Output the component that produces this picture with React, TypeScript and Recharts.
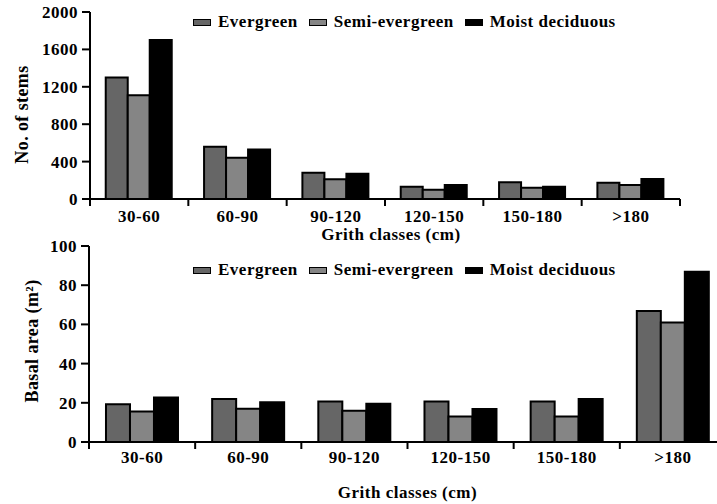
import { BarChart, Bar, XAxis, YAxis, Legend } from 'recharts'

const categories = ['30-60', '60-90', '90-120', '120-150', '150-180', '>180']
const seriesNames = ['Evergreen', 'Semi-evergreen', 'Moist deciduous']
const seriesColors = ['#666666', '#858585', '#000000']

const stemsEvergreen = [1300, 560, 280, 130, 180, 175]
const stemsSemi = [1110, 440, 210, 100, 120, 150]
const stemsMoist = [1700, 530, 270, 150, 130, 215]

const basalEvergreen = [19.3, 22, 20.7, 20.7, 20.7, 66.8]
const basalSemi = [15.6, 17, 16, 13, 13, 61]
const basalMoist = [22.7, 20.3, 19.5, 16.8, 21.9, 86.8]

const stemTicks = [0, 400, 800, 1200, 1600, 2000]
const basalTicks = [0, 20, 40, 60, 80, 100]

const FONT = 'Liberation Serif'
const FS = 17
const FW = 'bold'
const LS = 0.5

const stemsData = categories.map((c, i) => ({
  name: c,
  ev: stemsEvergreen[i],
  se: stemsSemi[i],
  md: stemsMoist[i],
}))
const basalData = categories.map((c, i) => ({
  name: c,
  ev: basalEvergreen[i],
  se: basalSemi[i],
  md: basalMoist[i],
}))

function makeXTick(band: number, labelDy: number) {
  return (props: any) => {
    const { x, y, payload, index } = props
    const left = x - band / 2
    const right = x + band / 2
    return (
      <g>
        <line x1={left} x2={left} y1={y} y2={y + 7} stroke="#000" strokeWidth={2} />
        {index === categories.length - 1 && (
          <line x1={right} x2={right} y1={y} y2={y + 7} stroke="#000" strokeWidth={2} />
        )}
        <text
          x={x}
          y={y + labelDy}
          textAnchor="middle"
          dominantBaseline="central"
          fontFamily={FONT}
          fontSize={FS}
          fontWeight={FW}
          letterSpacing={LS}
          fill="#000"
        >
          {payload.value}
        </text>
      </g>
    )
  }
}

function xTitle(dy: number, dx: number) {
  return (props: any) => {
    const vb = props.viewBox
    return (
      <text
        x={vb.x + vb.width / 2 + dx}
        y={vb.y + dy}
        textAnchor="middle"
        dominantBaseline="central"
        fontFamily={FONT}
        fontSize={FS}
        fontWeight={FW}
        letterSpacing={LS}
        fill="#000"
      >
        Grith classes (cm)
      </text>
    )
  }
}

function yTitle(text: string, cx: number, dy: number) {
  return (props: any) => {
    const vb = props.viewBox
    const cy = vb.y + vb.height / 2 + dy
    return (
      <text
        x={cx}
        y={cy}
        textAnchor="middle"
        dominantBaseline="central"
        transform={`rotate(-90 ${cx} ${cy})`}
        fontFamily={FONT}
        fontSize={18}
        fontWeight={FW}
        letterSpacing={0.4}
        fill="#000"
      >
        {text}
      </text>
    )
  }
}

function LegendBox() {
  return (
    <div
      style={{
        display: 'flex',
        alignItems: 'center',
        fontFamily: FONT,
        fontSize: FS,
        fontWeight: FW,
        letterSpacing: LS,
        whiteSpace: 'nowrap',
        lineHeight: '20px',
      }}
    >
      {seriesNames.map((n, i) => (
        <div key={n} style={{ display: 'flex', alignItems: 'center', marginRight: 11 }}>
          <span
            style={{
              display: 'inline-block',
              width: 16,
              height: 5,
              background: seriesColors[i],
              border: '1.5px solid #000',
              marginRight: 7,
            }}
          />
          <span>{n}</span>
        </div>
      ))}
    </div>
  )
}

const tickStyle = { fontFamily: FONT, fontSize: FS, fontWeight: FW, letterSpacing: LS, fill: '#000' }
const axisStroke = { stroke: '#000', strokeWidth: 2 }

function Bars() {
  return [
    <Bar key="ev" dataKey="ev" name={seriesNames[0]} fill={seriesColors[0]} stroke="#000" strokeWidth={2} isAnimationActive={false} />,
    <Bar key="se" dataKey="se" name={seriesNames[1]} fill={seriesColors[1]} stroke="#000" strokeWidth={2} isAnimationActive={false} />,
    <Bar key="md" dataKey="md" name={seriesNames[2]} fill={seriesColors[2]} stroke="#000" strokeWidth={2} isAnimationActive={false} />,
  ]
}

export default function App() {
  const topBand = (680 - 90) / categories.length
  const botBand = (726 - 89) / categories.length
  return (
    <div style={{ position: 'absolute', left: 0, top: 0, width: 717, height: 504, overflow: 'hidden', background: '#fff' }}>
      <div style={{ position: 'absolute', left: 0, top: 0 }}>
        <BarChart
          width={717}
          height={245}
          data={stemsData}
          margin={{ top: 12, right: 37, left: 0, bottom: 0 }}
          barCategoryGap="16%"
          barGap={0}
        >
          <XAxis
            dataKey="name"
            height={46}
            tickSize={0}
            tickMargin={0}
            tickLine={false}
            axisLine={axisStroke}
            tick={makeXTick(topBand, 17)}
            interval={0}
            label={xTitle(35, 6)}
          />
          <YAxis
            width={90}
            domain={[0, 2000]}
            ticks={stemTicks}
            tickSize={8}
            tickMargin={4}
            tickLine={axisStroke}
            axisLine={axisStroke}
            tick={tickStyle}
            label={yTitle('No. of stems', 22, 9)}
          />
          <Legend
            layout="horizontal"
            verticalAlign="middle"
            align="center"
            wrapperStyle={{ top: 12, left: 193, width: 490, height: 20 }}
            content={() => <LegendBox />}
          />
          {Bars()}
        </BarChart>
      </div>
      <div style={{ position: 'absolute', left: 0, top: 234 }}>
        <BarChart
          width={726}
          height={270}
          data={basalData}
          margin={{ top: 12, right: 0, left: 0, bottom: 0 }}
          barCategoryGap="16%"
          barGap={0}
        >
          <XAxis
            dataKey="name"
            height={62}
            tickSize={0}
            tickMargin={0}
            tickLine={false}
            axisLine={axisStroke}
            tick={makeXTick(botBand, 15)}
            interval={0}
            label={xTitle(50, 0)}
          />
          <YAxis
            width={89}
            domain={[0, 100]}
            ticks={basalTicks}
            tickSize={8}
            tickMargin={4}
            tickLine={axisStroke}
            axisLine={axisStroke}
            tick={tickStyle}
            label={yTitle('Basal area (m²)', 32, -3)}
          />
          <Legend
            layout="horizontal"
            verticalAlign="middle"
            align="center"
            wrapperStyle={{ top: 26, left: 193, width: 490, height: 20 }}
            content={() => <LegendBox />}
          />
          {Bars()}
        </BarChart>
      </div>
    </div>
  )
}
